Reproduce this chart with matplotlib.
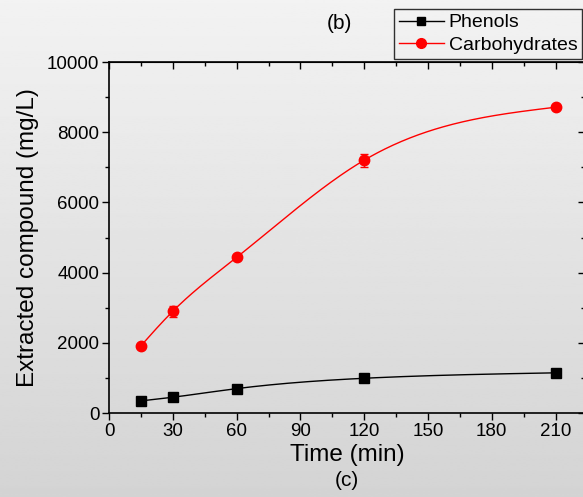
import numpy as np
import matplotlib
matplotlib.use("Agg")
import matplotlib.pyplot as plt
from matplotlib.lines import Line2D
from matplotlib.ticker import MultipleLocator

# data
time_min = [15, 30, 60, 120, 210]
phenols = [345, 450, 695, 990, 1145]
phenols_err = [30, 40, 40, 50, 40]
carbs = [1915, 2900, 4435, 7205, 8715]
carbs_err = [40, 160, 60, 180, 50]
x_ticks = [0, 30, 60, 90, 120, 150, 180, 210]
y_ticks = [0, 2000, 4000, 6000, 8000, 10000]


def natural_spline(x, y, n=300):
    """Natural cubic spline through (x, y), used only for the connecting curve."""
    x = np.asarray(x, float)
    y = np.asarray(y, float)
    k = len(x)
    h = np.diff(x)
    A = np.zeros((k, k))
    b = np.zeros(k)
    A[0, 0] = A[-1, -1] = 1
    for i in range(1, k - 1):
        A[i, i - 1] = h[i - 1]
        A[i, i] = 2 * (h[i - 1] + h[i])
        A[i, i + 1] = h[i]
        b[i] = 6 * ((y[i + 1] - y[i]) / h[i] - (y[i] - y[i - 1]) / h[i - 1])
    M = np.linalg.solve(A, b)
    xs = np.linspace(x[0], x[-1], n)
    j = np.clip(np.searchsorted(x, xs) - 1, 0, k - 2)
    t0 = x[j + 1] - xs
    t1 = xs - x[j]
    hj = h[j]
    ys = (M[j] * t0**3 + M[j + 1] * t1**3) / (6 * hj) \
        + (y[j] / hj - M[j] * hj / 6) * t0 + (y[j + 1] / hj - M[j + 1] * hj / 6) * t1
    return xs, ys


plt.rcParams["font.family"] = ["Liberation Sans", "DejaVu Sans"]

fig = plt.figure(figsize=(5.83, 4.97), dpi=100)

# grey gradient background
bg = fig.add_axes([0, 0, 1, 1], zorder=-10)
grad = np.linspace(0.95, 0.83, 256)[:, None]
bg.imshow(grad, cmap="gray", vmin=0, vmax=1, aspect="auto", extent=[0, 1, 0, 1])
bg.set_axis_off()

ax = fig.add_axes([0.187, 0.169, 0.817, 0.706])
ax.patch.set_alpha(0)

xs, ys = natural_spline(time_min, phenols)
ax.plot(xs, ys, color="black", lw=1)
ax.errorbar(time_min, phenols, yerr=phenols_err, fmt="s", color="black",
            ms=6.5, capsize=3, elinewidth=1)
xs, ys = natural_spline(time_min, carbs)
ax.plot(xs, ys, color="red", lw=1)
ax.errorbar(time_min, carbs, yerr=carbs_err, fmt="o", color="red",
            ms=7.5, capsize=3, elinewidth=1)

ax.set_xlim(0, 224)
ax.set_ylim(0, 10000)
ax.set_xticks(x_ticks)
ax.set_yticks(y_ticks)
ax.xaxis.set_minor_locator(MultipleLocator(15))
ax.yaxis.set_minor_locator(MultipleLocator(1000))
ax.tick_params(which="both", direction="out", labelsize=13.5, width=1, pad=2)
ax.tick_params(which="major", length=5)
ax.tick_params(which="minor", length=3)
for s in ax.spines.values():
    s.set_linewidth(1.2)

# mirrored ticks on top and right pointing inwards
top = ax.secondary_xaxis("top")
top.set_xticks(x_ticks)
top.xaxis.set_minor_locator(MultipleLocator(15))
top.tick_params(which="both", direction="in", labeltop=False, width=1)
top.tick_params(which="major", length=5)
top.tick_params(which="minor", length=3)
right = ax.secondary_yaxis("right")
right.set_yticks(y_ticks)
right.yaxis.set_minor_locator(MultipleLocator(1000))
right.tick_params(which="both", direction="in", labelright=False, width=1)
right.tick_params(which="major", length=5)
right.tick_params(which="minor", length=3)

ax.set_xlabel("Time (min)", fontsize=17.5, labelpad=3)
ax.set_ylabel("Extracted compound (mg/L)", fontsize=17.5, labelpad=6)

fig.text(0.583, 0.953, "(b)", ha="center", va="center", fontsize=15)
fig.text(0.595, 0.034, "(c)", ha="center", va="center", fontsize=15)

handles = [
    Line2D([], [], color="black", marker="s", ms=6, lw=1),
    Line2D([], [], color="red", marker="o", ms=7, lw=1),
]
leg = fig.legend(handles, ["Phenols", "Carbohydrates"], loc="upper left",
                 bbox_to_anchor=(0.676, 0.982), fontsize=14, frameon=True,
                 fancybox=False, edgecolor="black", facecolor="none",
                 handlelength=2.3, handletextpad=0.25, borderpad=0.25,
                 labelspacing=0.25, borderaxespad=0)
leg.get_frame().set_linewidth(1)

fig.savefig("out.png", dpi=100)
